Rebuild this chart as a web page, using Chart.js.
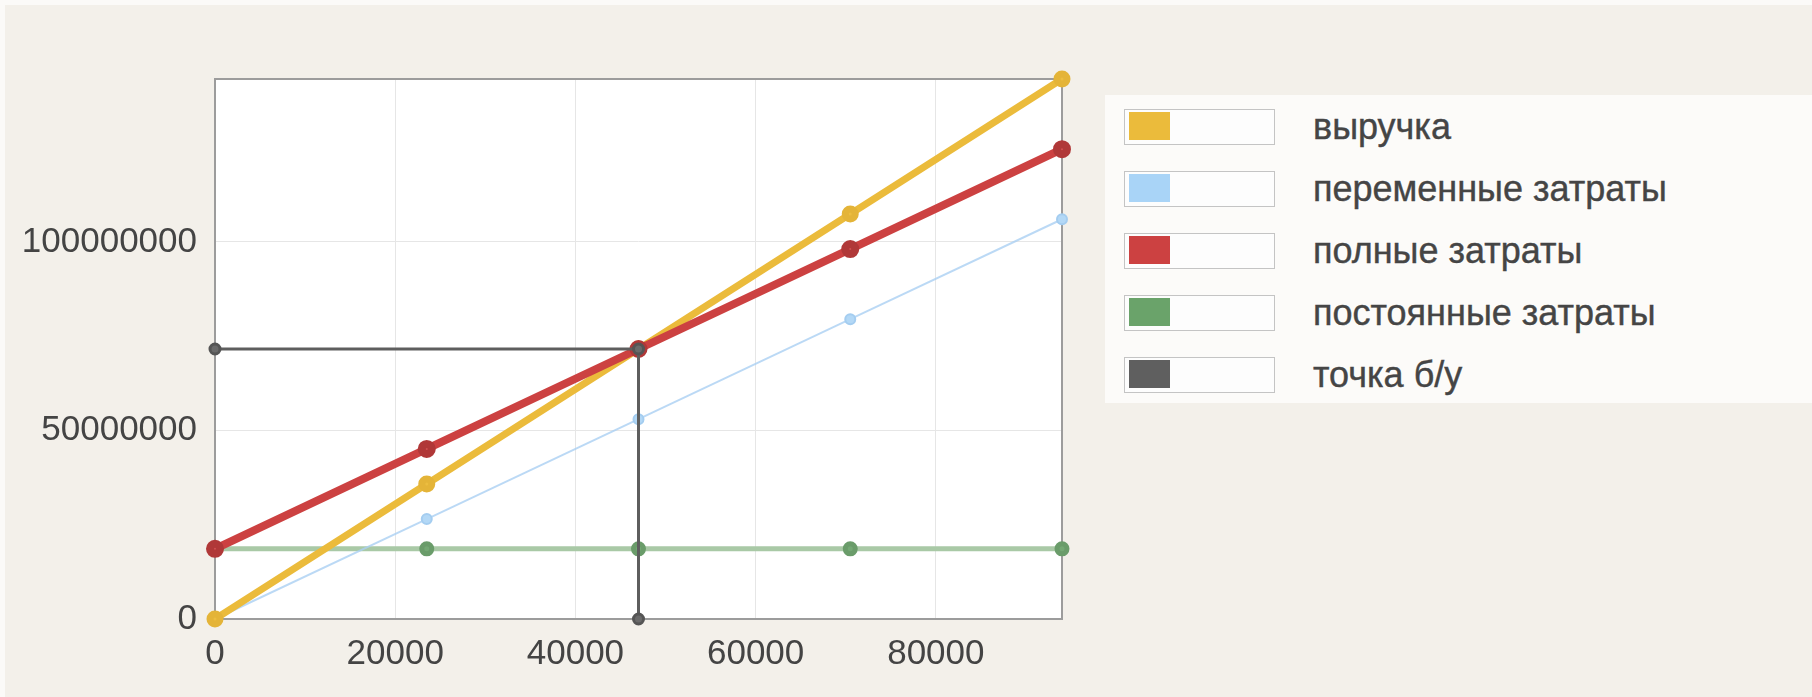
<!DOCTYPE html>
<html>
<head>
<meta charset="utf-8">
<title>точка безубыточности</title>
<script src="https://cdn.jsdelivr.net/npm/chart.js@4"></script>
<style>
    html, body { margin: 0; padding: 0; }
    body { width: 1812px; height: 697px; background: #fbfaf8; overflow: hidden; font-family: "Liberation Sans", Arial, sans-serif; }
    #page { position: absolute; left: 5px; top: 5px; right: 0; bottom: 0; background: #f3f0ea; }
    #chart-wrap { position: absolute; left: 0; top: 0; width: 1812px; height: 697px; }
    #legend { position: absolute; left: 1105px; top: 95px; width: 707px; height: 308px; background: #fcfbf9; }
    .item { position: absolute; left: 0; height: 36px; width: 700px; }
    .swatch { position: absolute; left: 19px; top: 0; width: 149px; height: 34px; border: 1px solid #c4c4c4; background: #fdfdfd; }
    .swatch span { position: absolute; left: 4px; top: 2px; width: 41px; height: 28px; }
    .label { position: absolute; left: 208px; top: 0; line-height: 36px; font-size: 36px; color: #454545; white-space: nowrap; -webkit-text-stroke: 0.4px #454545; }
</style>
</head>
<body>
<div id="page"></div>
<div id="chart-wrap"><canvas id="chartjs-0" width="1812" height="697"></canvas></div>
<div id="legend"></div>
<script>
/* volume of sales (x) */
var volume = [0, 23500, 47000, 70500, 94000];

/* series values (y) */
var revenue = [0, 35800000, 71600000, 107400000, 143200000];
var variableCosts = [0, 26500000, 53000000, 79500000, 106000000];
var totalCosts = [18600000, 45100000, 71600000, 98100000, 124600000];
var fixedCosts = [18600000, 18600000, 18600000, 18600000, 18600000];

/* break-even point lines */
var breakEvenX = [0, 47000, 47000];
var breakEvenY = [71600000, 71600000, 0];

var seriesNames = ["выручка", "переменные затраты", "полные затраты", "постоянные затраты", "точка б/у"];

/* tick labels */
var xTicks = [0, 20000, 40000, 60000, 80000];
var yTicks = [0, 50000000, 100000000];
var xMax = 94000;
var yMax = 143200000;

function pairs(xs, ys) {
    var out = [];
    for (var i = 0; i < xs.length; i++) {
        out.push({ x: xs[i], y: ys[i] });
    }
    return out;
}

/* white plot background + frame round the plot area */
var plotFrame = {
    id: "plotFrame",
    beforeDraw: function (chart) {
        var a = chart.chartArea;
        var ctx = chart.ctx;
        ctx.save();
        ctx.fillStyle = "#ffffff";
        ctx.fillRect(a.left, a.top, a.right - a.left, a.bottom - a.top);
        ctx.restore();
    },
    beforeDatasetsDraw: function (chart) {
        var a = chart.chartArea;
        var ctx = chart.ctx;
        ctx.save();
        ctx.strokeStyle = "#9c9c9c";
        ctx.lineWidth = 2;
        ctx.strokeRect(a.left, a.top, a.right - a.left, a.bottom - a.top);
        ctx.restore();
    }
};

Chart.defaults.font.family = "'Liberation Sans', Arial, sans-serif";

var ctx0 = document.getElementById("chartjs-0");
var myChart = new Chart(ctx0, {
    type: "line",
    data: {
        datasets: [
            {
                label: seriesNames[0],
                data: pairs(volume, revenue),
                borderColor: "#ebbb3b",
                backgroundColor: "#ebbb3b",
                pointBackgroundColor: "#ecbd40",
                pointBorderColor: "#e4b438",
                borderWidth: 7,
                pointRadius: 5,
                order: 3
            },
            {
                label: seriesNames[1],
                data: pairs(volume, variableCosts),
                borderColor: "rgba(170, 208, 242, 0.8)",
                backgroundColor: "#a9d4f7",
                pointBackgroundColor: "#b3d8f6",
                pointBorderColor: "#a4cdf0",
                borderWidth: 2,
                pointRadius: 5,
                order: 4
            },
            {
                label: seriesNames[2],
                data: pairs(volume, totalCosts),
                borderColor: "#cc4141",
                backgroundColor: "#cc4141",
                pointBackgroundColor: "#d05050",
                pointBorderColor: "#b03838",
                borderWidth: 8,
                pointRadius: 5,
                order: 2
            },
            {
                label: seriesNames[3],
                data: pairs(volume, fixedCosts),
                borderColor: "#a9c9a6",
                backgroundColor: "#6aa36a",
                pointBackgroundColor: "#74a874",
                pointBorderColor: "#6a9c6a",
                borderWidth: 5,
                pointRadius: 5,
                order: 5
            },
            {
                label: seriesNames[4],
                data: pairs(breakEvenX, breakEvenY),
                borderColor: "#5e5e5e",
                backgroundColor: "#5f5f5f",
                pointBackgroundColor: "#6a6a6a",
                pointBorderColor: "#555555",
                borderWidth: 3,
                pointRadius: 5,
                order: 1
            }
        ]
    },
    options: {
        responsive: false,
        animation: false,
        clip: false,
        layout: { padding: { left: 0, top: 79, right: 750, bottom: 0 } },
        plugins: {
            legend: { display: false },
            tooltip: { enabled: false }
        },
        elements: { line: { tension: 0 } },
        scales: {
            x: {
                type: "linear",
                min: 0,
                max: xMax,
                afterBuildTicks: function (axis) {
                    axis.ticks = xTicks.map(function (v) { return { value: v }; });
                },
                afterFit: function (axis) { axis.height = 78; },
                grid: { color: "#e6e6e6", lineWidth: 1, drawTicks: false },
                border: { display: false },
                ticks: {
                    padding: 14,
                    color: "#444444",
                    font: { size: 35 },
                    maxRotation: 0,
                    callback: function (v) { return String(v); }
                }
            },
            y: {
                min: 0,
                max: yMax,
                afterBuildTicks: function (axis) {
                    axis.ticks = yTicks.map(function (v) { return { value: v }; });
                },
                afterFit: function (axis) { axis.width = 215; },
                grid: { color: "#e6e6e6", lineWidth: 1, drawTicks: false },
                border: { display: false },
                ticks: {
                    padding: 18,
                    color: "#444444",
                    font: { size: 35 },
                    callback: function (v) { return String(v); }
                }
            }
        }
    },
    plugins: [plotFrame]
});

/* legend built from the datasets */
var legend = document.getElementById("legend");
myChart.data.datasets.forEach(function (ds, i) {
    var item = document.createElement("div");
    item.className = "item";
    item.style.top = (14 + i * 62) + "px";
    var sw = document.createElement("div");
    sw.className = "swatch";
    var sq = document.createElement("span");
    sq.style.background = ds.backgroundColor;
    sw.appendChild(sq);
    var lb = document.createElement("div");
    lb.className = "label";
    lb.textContent = ds.label;
    item.appendChild(sw);
    item.appendChild(lb);
    legend.appendChild(item);
});
</script>
</body>
</html>
